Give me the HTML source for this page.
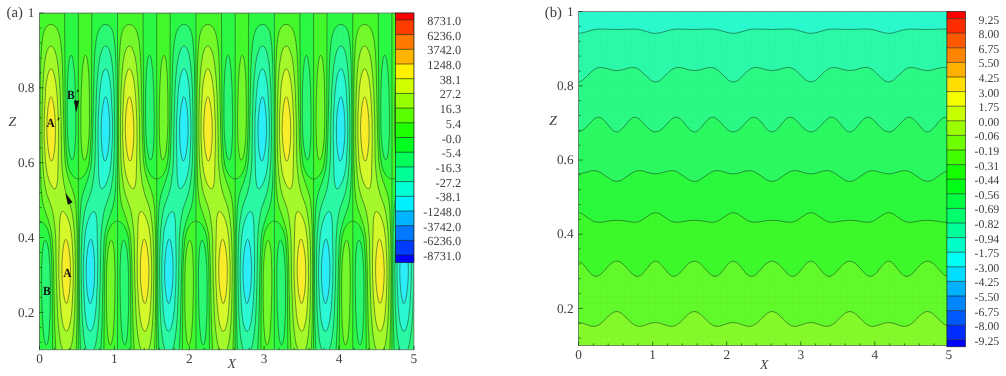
<!DOCTYPE html><html><head><meta charset="utf-8"><style>html,body{margin:0;padding:0;background:#fff;width:1006px;height:376px;overflow:hidden}svg{display:block}</style></head><body><svg width="1006" height="376" viewBox="0 0 1006 376"><defs><filter id="gs" x="0" y="0" width="1006" height="376" filterUnits="userSpaceOnUse" color-interpolation-filters="sRGB"><feColorMatrix type="saturate" values="0"/></filter><clipPath id="ca"><rect x="39.5" y="13.0" width="374.4" height="336.8"/></clipPath><clipPath id="cb"><rect x="578.6" y="11.6" width="370.3" height="333.9"/></clipPath><pattern id="mesh" width="2.4" height="2.35" patternUnits="userSpaceOnUse"><rect width="2.4" height="2.35" fill="none"/><path d="M0,0H2.4M0,0V2.35" stroke="#000" stroke-width="0.6" stroke-opacity="0.05" fill="none"/></pattern><g id="pa" fill-rule="evenodd"><path fill="#2bfcd7" d="M-0.6,349.8L79.2,349.8L79.2,13.0L-0.7,13.0L-0.7,349.8ZM50.8,303.3L50.0,302.1L49.4,300.0L48.0,291.4L47.2,280.5L47.0,269.6L47.5,258.8L48.6,248.7L50.2,241.4L51.0,239.7L51.8,239.2L52.6,239.9L53.2,241.7L54.5,249.4L55.4,260.6L55.6,272.6L55.1,284.2L53.9,294.9L52.4,301.5L51.6,303.2L50.8,303.4ZM65.6,161.0L64.9,160.0L64.3,158.0L63.0,150.1L62.2,139.1L62.0,127.6L62.5,116.6L63.6,106.2L65.1,99.1L65.9,97.2L66.5,96.7L67.3,97.5L68.1,99.7L69.5,107.4L70.4,118.6L70.7,130.3L70.1,141.9L68.9,152.4L67.3,159.2L66.5,160.7L65.7,161.0Z"/><path fill="#2bfca6" d="M-0.6,349.8L79.2,349.8L79.2,13.0L-0.7,13.0L-0.7,349.8ZM50.3,331.1L48.9,328.8L47.5,323.9L46.4,317.2L45.6,309.0L44.3,280.9L44.2,269.3L44.5,257.3L45.7,237.4L46.4,231.4L47.5,225.8L49.1,220.1L50.8,215.8L52.9,212.6L53.9,211.7L54.8,211.4L55.9,212.0L56.8,214.2L57.5,218.4L58.0,223.9L58.7,261.8L58.4,282.7L57.1,306.7L55.6,319.5L54.4,325.4L53.1,329.3L51.8,331.1L51.0,331.4L50.3,331.1ZM62.2,188.7L61.3,187.6L60.6,185.1L59.6,175.6L58.9,138.5L59.2,118.3L60.5,94.7L61.8,82.3L62.8,76.5L63.9,72.5L65.2,69.7L66.5,68.8L67.3,69.1L68.1,70.2L69.6,74.0L70.8,80.3L71.8,88.7L73.3,117.1L73.5,129.1L73.2,141.5L72.0,162.5L71.3,168.5L70.2,174.3L68.6,180.1L66.5,185.0L64.3,188.1L63.3,188.7L62.3,188.8Z"/><path fill="#2bfc75" d="M-0.6,349.8L47.3,349.8L45.7,343.9L44.5,335.9L43.5,324.0L42.7,310.1L42.0,270.0L42.3,250.9L43.0,233.3L44.0,221.7L45.5,211.9L47.2,205.2L51.1,194.3L52.6,189.1L53.9,182.0L55.2,171.5L56.0,159.5L56.5,121.6L57.3,94.3L58.2,78.9L59.5,65.4L60.7,57.4L62.4,51.2L64.4,47.2L65.4,46.3L66.5,46.0L67.8,46.4L69.1,47.8L70.2,50.1L71.2,53.1L72.8,61.7L74.0,74.3L75.0,92.0L75.5,119.8L75.5,139.3L74.9,161.0L73.9,175.2L72.2,187.6L70.5,194.7L66.5,205.9L65.1,210.8L63.8,217.7L62.6,227.3L61.7,240.0L61.1,282.4L59.8,316.5L58.9,328.1L57.8,337.4L56.5,344.6L54.9,349.8L79.2,349.8L79.2,13.0L-0.7,13.0L-0.7,349.8Z"/><path fill="#2bfc44" d="M-0.6,349.8L41.4,349.8L40.5,320.2L40.1,272.6L40.4,232.5L41.4,208.6L42.2,201.4L43.2,195.8L44.6,191.0L48.1,181.1L50.0,174.7L51.5,168.1L52.4,161.4L53.4,140.4L55.0,68.1L55.7,53.1L56.8,41.8L58.3,34.4L60.3,29.0L61.5,27.1L63.0,25.7L64.8,24.7L66.5,24.4L68.4,24.8L70.2,25.8L71.6,27.4L72.9,29.8L73.9,32.5L74.7,36.2L75.9,46.3L76.8,63.2L77.3,89.4L77.5,128.4L77.3,163.6L76.5,187.2L75.3,199.9L73.5,207.8L69.4,219.6L67.3,226.7L66.0,232.9L65.1,239.7L64.2,261.0L62.9,325.4L61.7,349.8L79.2,349.8L79.2,13.0L-0.7,13.0L-0.7,349.8ZM6.7,344.6L5.8,342.6L5.0,339.0L3.7,326.3L2.9,309.0L2.5,282.4L2.7,265.1L3.4,251.3L4.5,243.0L5.3,240.8L6.1,240.2L7.1,241.0L8.1,243.4L9.0,247.6L9.8,253.2L10.8,266.6L11.2,283.9L11.1,310.8L10.1,331.3L9.5,337.9L8.7,342.3L7.7,344.6L7.3,344.9L6.8,344.7ZM32.6,159.9L31.8,158.6L30.8,155.5L29.2,145.6L28.3,132.9L28.0,116.8L28.1,90.9L28.9,71.6L30.2,59.5L31.0,56.5L31.9,55.3L32.4,55.5L32.9,56.2L33.8,59.4L35.2,70.7L36.2,89.4L36.7,115.3L36.6,134.4L35.8,149.4L35.2,154.2L34.5,158.0L33.7,159.7L33.2,160.0L32.7,159.9Z"/><path fill="#44fc2b" d="M-0.6,349.8L-0.0,349.8L0.1,221.1L2.0,221.5L3.9,222.6L5.7,224.4L7.3,226.9L8.7,229.9L9.8,233.3L10.8,237.4L11.3,241.5L12.4,255.3L13.0,272.2L13.5,349.8L39.2,349.8L39.2,179.3L39.1,179.1L36.7,178.5L34.8,177.1L32.9,174.9L31.1,171.7L29.8,168.4L28.7,164.2L27.4,154.0L26.5,138.9L26.1,119.8L25.5,13.0L0.1,13.0L-0.0,13.4L0.0,220.9L-0.7,221.2L-0.7,349.8ZM65.1,349.8L78.4,349.8L78.4,221.1L76.4,221.5L74.5,222.6L72.8,224.4L71.2,226.9L69.7,229.9L68.6,233.3L67.6,237.4L67.1,241.5L66.0,255.3L65.4,272.2L64.9,349.8ZM78.5,221.1L79.2,221.2L79.2,13.0L78.5,13.0L78.4,13.4L78.4,220.9ZM39.3,179.1L41.5,178.6L43.6,177.1L45.5,174.9L47.3,171.7L48.7,167.9L49.7,164.0L51.0,153.5L51.9,137.0L52.4,115.7L52.7,13.0L39.3,13.0L39.2,13.4L39.2,179.0Z"/><path fill="#75fc2b" d="M16.9,349.8L37.0,349.8L37.7,332.9L38.1,306.7L38.3,270.4L38.0,235.9L37.3,212.7L36.0,199.9L34.3,192.5L30.2,180.6L28.1,173.5L26.7,167.0L25.9,160.6L25.0,139.6L23.5,69.2L22.7,54.2L21.7,43.0L20.2,34.7L19.3,31.5L18.1,29.0L16.9,27.1L15.3,25.6L13.5,24.7L11.7,24.4L9.8,24.8L8.1,25.9L6.6,27.6L5.5,29.9L4.5,32.9L3.6,36.6L2.5,46.7L1.6,63.6L1.1,89.8L0.9,128.4L1.2,164.0L1.9,187.2L3.1,199.9L4.9,207.8L9.0,219.6L11.1,226.7L12.4,232.9L13.3,239.7L14.3,261.0L15.5,325.4L16.7,349.8ZM70.7,344.6L71.2,344.9L71.6,344.7L72.6,342.6L73.4,339.0L74.1,333.7L75.2,316.5L75.8,294.4L75.9,271.5L75.3,254.6L74.8,248.3L74.0,243.7L73.2,241.1L72.3,240.2L71.3,241.0L70.5,242.9L68.9,250.7L67.8,262.4L67.3,276.7L67.3,304.8L67.8,323.3L68.9,337.9L69.7,342.3L70.6,344.6ZM44.9,159.9L45.4,160.0L45.9,159.8L46.8,158.2L47.8,154.8L48.6,150.4L49.8,138.5L50.4,123.1L50.3,93.9L49.7,74.1L48.4,60.4L47.5,56.5L46.5,55.3L46.0,55.5L45.5,56.2L44.7,58.7L43.4,67.7L42.4,84.6L41.9,105.9L41.7,127.6L42.2,143.7L43.3,155.0L44.1,158.4L44.9,159.9Z"/><path fill="#a6fc2b" d="M23.4,349.7L31.1,349.8L32.7,343.9L34.0,335.3L35.5,315.3L36.2,288.4L36.3,264.8L35.7,239.3L34.8,225.4L33.0,212.8L31.3,205.5L27.3,194.3L25.8,189.0L24.4,181.6L23.2,171.1L22.4,159.5L22.0,121.6L21.1,94.3L20.2,78.9L19.0,65.4L17.6,57.2L15.9,50.9L14.0,47.2L12.9,46.2L11.7,46.0L10.5,46.5L9.2,48.1L8.1,50.5L7.1,53.7L5.5,62.5L4.4,74.4L3.5,92.0L2.9,119.8L2.9,139.3L3.5,161.0L4.5,175.2L6.2,187.6L7.9,194.7L11.9,205.9L13.3,210.8L14.6,217.7L15.8,227.3L16.7,240.0L17.3,282.0L18.6,316.1L19.5,327.7L20.6,337.0L21.8,344.2L23.3,349.4Z"/><path fill="#d7fc2b" d="M26.6,331.1L27.4,331.4L28.2,331.0L29.0,329.8L29.8,327.9L31.3,322.0L32.4,314.2L33.1,304.8L34.0,286.9L34.2,274.1L34.1,262.5L32.9,238.9L31.3,227.2L29.7,221.0L27.8,216.1L25.5,212.6L24.6,211.7L23.6,211.4L22.5,212.0L21.6,214.2L20.9,217.9L20.5,223.2L19.7,258.4L19.8,277.1L20.7,297.7L22.2,314.9L24.1,325.6L25.4,329.3L26.6,331.1ZM15.1,188.7L15.7,188.8L16.4,188.6L17.4,186.8L18.1,183.3L18.7,177.5L19.5,141.5L19.4,122.0L18.1,96.2L16.8,83.4L15.7,77.3L14.6,72.9L13.3,70.0L12.7,69.2L11.9,68.8L11.1,69.1L10.3,70.2L8.9,73.7L7.7,79.7L6.7,87.6L5.2,114.5L5.1,137.8L6.3,161.0L7.7,172.0L9.2,178.0L10.9,183.0L13.0,186.8L15.0,188.7Z"/><path fill="#fcf02b" d="M27.1,303.4L27.9,303.0L28.7,301.1L30.2,293.5L31.1,282.7L31.5,271.1L31.0,259.1L29.8,248.7L28.2,241.4L27.4,239.7L26.6,239.2L25.8,239.9L25.2,241.7L23.9,249.0L23.1,259.5L22.8,271.1L23.2,281.6L24.2,292.1L25.5,299.9L26.3,302.4L27.0,303.3ZM12.2,161.0L13.0,160.8L13.8,159.2L15.1,152.7L16.1,141.9L16.4,129.1L16.0,117.9L14.9,107.3L13.5,99.6L12.7,97.5L11.9,96.7L11.1,97.5L10.5,99.2L9.0,106.9L8.1,117.5L7.7,128.8L8.2,140.0L9.2,150.3L10.6,157.7L11.4,159.9L12.2,161.0Z"/><path d="M50.8,303.4L50.0,302.1L49.4,300.0L48.0,291.4L47.2,280.5L47.0,269.6L47.5,258.8L48.6,248.7L50.2,241.4L51.0,239.7L51.8,239.2L52.6,239.9L53.2,241.7L54.5,249.4L55.4,260.6L55.6,272.6L55.1,284.2L53.9,294.9L52.4,301.5L51.6,303.2L50.8,303.4M65.7,161.0L64.9,160.0L64.3,158.1L63.0,150.5L62.2,139.6L62.0,128.0L62.5,116.6L63.6,106.2L65.1,99.1L65.9,97.2L66.5,96.7L67.3,97.5L68.1,99.7L69.5,107.4L70.4,118.6L70.7,130.3L70.1,141.9L68.9,152.4L67.3,159.2L66.5,160.7L65.7,161.0M50.3,331.1L48.9,328.8L47.5,323.9L46.4,317.2L45.6,309.0L44.3,280.9L44.2,269.3L44.5,257.3L45.7,237.4L46.4,231.4L47.5,225.8L49.1,220.1L50.8,215.8L52.9,212.6L53.9,211.7L54.8,211.4L55.9,212.0L56.8,214.2L57.5,218.4L58.0,223.9L58.7,261.8L58.4,282.7L57.1,306.7L55.6,319.5L54.4,325.4L53.1,329.3L51.8,331.1L51.0,331.4L50.3,331.1M62.3,188.8L61.4,187.7L60.6,185.1L59.6,175.6L58.9,138.5L59.1,118.6L60.4,95.0L61.7,82.7L62.8,76.7L63.9,72.5L65.2,69.7L66.5,68.8L67.3,69.1L68.1,70.2L69.6,74.0L70.8,80.3L71.8,88.7L73.3,117.1L73.5,129.1L73.2,141.5L72.0,162.5L71.3,168.5L70.2,174.3L68.6,180.1L66.5,185.0L64.3,188.1L63.3,188.7L62.3,188.8M47.3,349.8L45.7,343.9L44.5,335.9L43.5,324.0L42.7,310.1L42.0,270.0L42.3,250.5L43.0,232.9L44.1,221.3L45.6,211.6L47.3,204.9L51.1,194.3L52.6,189.1L53.9,182.0L55.2,171.5L56.0,159.5L56.5,121.6L57.3,93.9L58.2,78.6L59.5,65.1L60.9,56.8L62.5,50.9L64.4,47.2L65.6,46.2L66.7,46.0L68.0,46.5L69.2,48.1L70.4,50.5L71.3,53.7L72.9,62.5L74.0,74.4L75.0,92.0L75.5,119.8L75.5,139.3L74.9,161.0L73.9,175.2L72.2,187.6L70.5,194.7L66.5,205.9L65.1,210.8L63.8,217.7L62.6,227.3L61.7,240.0L61.1,282.4L59.8,316.5L58.9,328.1L57.8,337.4L56.5,344.6L54.9,349.8M41.4,349.8L40.5,320.2L40.1,272.6L40.4,232.5L41.4,208.6L42.2,201.4L43.2,195.8L44.6,191.0L48.1,181.1L50.0,174.7L51.5,168.1L52.4,161.4L53.4,140.4L55.0,68.1L55.7,53.1L56.8,41.8L58.3,34.1L60.4,28.7L61.7,26.9L63.3,25.5L64.9,24.7L66.7,24.4L68.6,24.8L70.4,25.9L71.8,27.6L73.0,29.9L74.0,32.9L74.8,36.6L75.9,46.7L76.8,63.6L77.3,89.8L77.5,128.4L77.3,164.0L76.5,187.2L75.3,199.9L73.5,207.8L69.4,219.6L67.3,226.7L66.0,232.9L65.1,239.7L64.2,261.0L62.9,325.4L61.7,349.8M6.8,344.7L5.8,342.6L5.0,339.0L3.8,326.6L2.9,309.1L2.5,283.5L2.6,265.9L3.3,251.6L4.5,243.0L5.3,240.8L6.1,240.2L7.1,241.0L8.1,243.4L9.0,247.6L9.8,253.2L10.8,266.6L11.2,283.9L11.1,310.8L10.1,331.3L9.5,337.9L8.7,342.3L7.7,344.6L7.3,344.9L6.8,344.7M32.7,159.9L31.9,158.9L31.0,156.2L29.4,146.7L28.4,134.0L28.0,117.5L28.1,90.9L28.9,71.6L30.2,59.5L31.0,56.5L31.9,55.3L32.4,55.5L32.9,56.2L33.8,59.4L35.2,70.7L36.2,89.4L36.7,115.3L36.6,134.4L35.8,149.4L35.2,154.2L34.5,158.0L33.7,159.7L33.2,160.0L32.7,159.9M-0.0,349.8L0.1,221.1L2.0,221.5L3.9,222.6L5.7,224.4L7.3,226.9L8.7,229.9L9.8,233.3L10.8,237.4L11.3,241.5L12.4,255.3L13.0,272.2L13.5,349.8M39.2,349.8L39.2,179.3L39.1,179.1L36.7,178.5L34.8,177.1L32.9,174.9L31.1,171.7L29.8,168.4L28.7,164.2L27.4,154.0L26.5,138.9L26.1,119.8L25.5,13.0L0.1,13.0L-0.0,13.4L0.0,220.9L-0.7,221.2M78.4,349.8L78.4,221.1L76.4,221.5L74.5,222.6L72.8,224.4L71.2,226.9L69.7,229.9L68.6,233.3L67.6,237.4L67.1,241.5L66.0,255.3L65.4,272.2L64.9,349.8M79.2,13.0L78.5,13.0L78.4,13.4L78.4,220.9L79.2,221.2M39.3,179.1L41.5,178.6L43.6,177.1L45.5,174.9L47.3,171.7L48.7,167.9L49.7,164.0L51.0,153.5L51.9,137.0L52.4,115.7L52.7,13.0L39.3,13.0L39.2,13.4L39.3,179.1M37.0,349.8L37.9,320.2L38.3,272.6L38.0,232.5L37.0,208.6L36.2,201.4L35.2,195.8L33.8,191.0L30.3,181.1L28.4,174.7L26.9,168.1L26.0,161.4L25.0,140.4L23.4,68.1L22.7,53.1L21.6,41.8L20.1,34.1L18.0,28.7L16.7,26.9L15.1,25.5L13.5,24.7L11.7,24.4L9.8,24.8L8.1,25.9L6.6,27.6L5.5,29.9L4.5,32.9L3.6,36.6L2.5,46.7L1.6,63.6L1.1,89.8L0.9,128.4L1.2,164.0L1.9,187.2L3.1,199.9L4.9,207.8L9.0,219.6L11.1,226.7L12.4,232.9L13.3,239.7L14.3,261.0L15.5,325.4L16.7,349.8M70.7,344.6L71.2,344.9L71.6,344.7L72.6,342.6L73.4,339.0L74.1,333.7L75.2,316.5L75.8,294.4L75.9,271.5L75.3,254.6L74.8,248.3L74.0,243.7L73.2,241.1L72.3,240.2L71.3,241.0L70.5,242.9L68.9,250.7L67.8,262.4L67.3,277.1L67.3,305.2L67.8,323.9L68.9,337.9L69.7,342.3L70.7,344.6M44.9,159.9L45.4,160.0L45.9,159.8L46.8,158.2L47.8,154.8L48.6,150.4L49.8,138.5L50.4,123.1L50.3,93.9L49.7,74.1L48.4,60.4L47.5,56.5L46.5,55.3L46.0,55.5L45.5,56.2L44.7,58.7L43.4,67.7L42.4,84.6L41.8,106.1L41.7,128.0L42.2,144.1L43.3,155.0L44.1,158.5L44.9,159.9M31.1,349.8L32.7,343.9L33.9,335.9L35.0,324.0L35.7,310.1L36.4,270.0L36.1,250.5L35.4,232.9L34.3,221.3L32.8,211.6L31.1,204.9L27.3,194.3L25.9,189.1L24.5,182.0L23.2,171.5L22.4,159.5L22.0,121.6L21.1,93.9L20.2,78.6L18.9,65.1L17.6,56.8L15.9,50.9L14.0,47.2L12.9,46.2L11.7,46.0L10.5,46.5L9.2,48.1L8.1,50.5L7.1,53.7L5.5,62.5L4.4,74.4L3.5,92.0L2.9,119.8L2.9,139.3L3.5,161.0L4.5,175.2L6.2,187.6L7.9,194.7L11.9,205.9L13.3,210.8L14.6,217.7L15.8,227.3L16.7,240.0L17.3,282.4L18.6,316.5L19.5,328.1L20.6,337.4L21.9,344.6L23.5,349.8M26.6,331.1L27.4,331.4L28.2,331.0L29.0,329.8L29.8,327.9L31.3,322.0L32.4,314.2L33.1,304.8L34.0,286.9L34.2,274.1L34.1,262.5L32.9,238.9L31.3,227.2L29.7,221.0L27.8,216.1L25.5,212.6L24.6,211.7L23.6,211.4L22.5,212.0L21.6,214.2L20.9,217.9L20.5,223.2L19.7,258.8L19.8,277.5L20.8,298.8L22.2,315.0L23.1,321.2L24.2,326.1L25.4,329.3L26.6,331.1M15.1,188.7L15.7,188.8L16.4,188.6L17.4,186.8L18.1,183.3L18.7,177.5L19.5,141.5L19.4,122.0L18.1,96.2L16.8,83.4L15.7,77.3L14.6,72.9L13.3,70.0L12.7,69.2L11.9,68.8L11.1,69.1L10.3,70.2L8.9,74.0L7.6,80.3L6.6,87.9L5.2,114.9L5.1,138.1L6.3,161.0L7.8,172.2L9.2,178.0L10.9,183.0L13.0,186.8L14.1,188.1L15.1,188.7M27.1,303.4L27.9,303.0L28.7,301.1L30.2,293.5L31.1,282.7L31.5,271.1L31.0,259.1L29.8,248.7L28.2,241.4L27.4,239.7L26.6,239.2L25.8,239.9L25.2,241.7L23.9,249.0L23.0,259.9L22.8,271.5L23.2,282.4L24.2,292.7L25.7,300.5L26.5,302.7L27.1,303.4M12.2,161.0L13.0,160.8L13.8,159.2L15.1,152.7L16.1,141.9L16.4,129.1L16.0,117.9L14.9,107.3L13.5,99.6L12.7,97.5L11.9,96.7L11.1,97.5L10.5,99.2L9.0,106.9L8.1,117.5L7.7,128.8L8.2,140.0L9.2,150.3L10.6,157.7L11.4,159.9L12.2,161.0" fill="none" stroke="#1a3a1a" stroke-width="0.85" stroke-opacity="0.62"/></g></defs><g clip-path="url(#ca)"><rect x="39.5" y="13.0" width="374.4" height="336.8" fill="#2bf0fc"/><use href="#pa" x="-39.31" y="0"/><use href="#pa" x="39.10" y="0"/><use href="#pa" x="117.51" y="0"/><use href="#pa" x="195.93" y="0"/><use href="#pa" x="274.34" y="0"/><use href="#pa" x="352.76" y="0"/><rect x="39.5" y="13.0" width="374.4" height="336.8" fill="url(#mesh)"/></g><g clip-path="url(#cb)"><rect x="578.6" y="11.6" width="370.3" height="333.9" fill="#2bfccf"/><path fill="#2bfcaa" d="M577.6,347.5L577.6,33.4L582.4,32.9L593.6,29.7L600.0,29.0L615.9,29.5L635.7,29.1L641.0,29.9L651.1,32.9L655.4,33.4L660.2,32.8L671.3,29.7L677.7,29.0L693.7,29.5L709.2,29.0L713.4,29.1L718.7,30.0L728.9,32.9L733.1,33.4L737.9,32.8L749.1,29.6L755.5,29.0L771.5,29.5L786.9,29.0L791.2,29.1L796.5,30.0L806.6,32.9L810.9,33.4L815.7,32.8L826.9,29.6L832.7,29.0L849.2,29.5L864.7,29.0L868.9,29.1L874.3,30.0L884.4,32.9L888.6,33.4L892.9,32.9L903.0,30.0L908.9,29.1L928.1,29.5L944.0,29.0L949.9,29.5L949.9,347.5Z"/><path fill="#2bfc86" d="M577.6,347.5L577.6,82.0L580.3,81.5L582.9,80.0L591.4,71.7L594.6,69.2L597.3,67.9L600.5,67.4L604.2,67.9L612.8,70.2L616.5,70.6L621.3,70.1L630.3,67.6L633.0,67.4L635.1,67.7L637.8,68.7L640.4,70.5L650.6,80.1L653.2,81.6L655.4,82.0L658.0,81.5L660.7,79.9L668.7,72.2L671.9,69.5L674.5,68.1L677.7,67.4L680.9,67.6L690.0,70.1L694.2,70.6L699.0,70.1L708.1,67.6L710.8,67.4L712.9,67.7L715.5,68.7L718.2,70.5L728.3,80.1L731.0,81.6L733.1,82.0L735.8,81.5L738.5,79.9L746.4,72.1L749.6,69.5L752.3,68.1L755.5,67.4L758.7,67.7L767.2,70.0L772.0,70.6L776.8,70.0L785.9,67.6L788.5,67.4L790.6,67.7L793.3,68.8L796.0,70.6L803.4,77.9L806.1,80.2L808.8,81.6L810.9,82.0L813.5,81.4L816.2,79.8L824.2,72.1L827.4,69.5L830.1,68.1L832.7,67.5L836.5,67.7L845.0,70.0L849.8,70.6L854.6,70.0L863.6,67.6L866.3,67.4L868.4,67.7L871.1,68.8L873.7,70.6L881.2,77.9L883.9,80.2L886.5,81.6L888.6,82.0L890.8,81.6L893.4,80.2L904.1,70.2L906.8,68.5L909.4,67.6L911.6,67.4L913.7,67.6L922.7,70.0L926.5,70.6L931.3,70.2L939.8,67.9L943.0,67.4L946.7,67.9L949.9,69.5L949.9,347.5Z"/><path fill="#2bfc62" d="M577.6,347.5L577.6,132.0L580.3,131.5L582.9,130.1L585.6,127.8L593.6,119.4L596.2,117.7L598.4,117.2L600.5,117.6L602.6,118.9L605.3,121.6L612.2,129.9L614.4,131.4L616.5,132.0L618.6,131.6L620.7,130.2L622.9,128.0L629.8,119.7L632.5,117.8L634.6,117.2L636.7,117.5L639.4,119.1L642.0,121.6L647.9,127.9L650.6,130.2L653.2,131.6L655.4,132.0L658.0,131.5L660.7,130.0L663.4,127.7L671.3,119.3L674.0,117.7L676.1,117.2L678.3,117.6L680.4,119.0L682.5,121.1L690.0,129.9L692.1,131.4L694.2,132.0L695.8,131.8L698.0,130.6L700.6,127.9L707.6,119.7L710.2,117.8L712.4,117.2L714.5,117.6L717.1,119.1L719.8,121.6L725.7,128.0L728.3,130.2L731.0,131.6L733.1,132.0L735.8,131.5L738.5,130.0L741.1,127.7L748.6,119.8L751.2,117.9L753.4,117.2L755.5,117.5L758.2,119.0L760.3,121.1L765.6,127.7L767.7,129.9L769.9,131.4L772.0,132.0L773.6,131.7L775.7,130.5L778.4,127.9L785.3,119.6L788.0,117.7L790.1,117.2L792.2,117.6L794.9,119.2L797.6,121.7L802.9,127.5L806.1,130.3L808.8,131.6L810.9,132.0L813.5,131.5L816.2,130.0L818.9,127.6L826.3,119.7L829.0,117.9L831.1,117.2L833.3,117.5L835.9,119.1L838.1,121.2L845.0,129.5L847.6,131.5L849.8,132.0L851.4,131.7L853.5,130.5L855.6,128.4L863.1,119.6L865.2,118.0L867.3,117.2L869.5,117.4L871.6,118.4L874.3,120.7L880.1,127.0L882.8,129.5L886.0,131.5L888.6,132.0L891.3,131.5L894.0,129.9L896.6,127.5L904.1,119.7L906.2,118.1L908.4,117.3L910.5,117.3L913.1,118.7L915.8,121.2L922.7,129.5L925.4,131.5L927.5,132.0L929.7,131.5L931.8,130.0L933.9,127.7L939.8,120.6L943.0,117.9L944.6,117.3L946.2,117.2L947.8,117.6L949.9,118.9L949.9,347.5Z"/><path fill="#2bfc3d" d="M577.6,347.5L577.6,173.9L581.9,173.4L591.4,170.8L594.1,170.6L596.2,170.9L598.4,171.5L601.0,172.8L611.7,180.1L614.4,181.1L617.0,181.4L619.1,181.1L621.8,180.0L631.9,173.0L634.6,171.6L637.3,170.8L639.4,170.6L642.0,170.8L651.1,173.4L655.4,173.9L659.6,173.4L668.7,170.9L672.4,170.6L675.1,171.1L678.3,172.5L689.4,180.1L692.1,181.1L694.8,181.4L696.9,181.0L699.6,180.0L709.7,173.0L712.4,171.6L715.0,170.8L717.1,170.6L719.8,170.8L728.9,173.4L733.1,173.9L737.4,173.4L745.9,171.0L749.6,170.6L752.3,171.0L755.0,172.0L758.2,173.9L766.7,179.9L769.3,181.0L772.0,181.4L774.7,181.0L777.3,179.9L787.5,172.9L790.1,171.6L792.8,170.8L794.9,170.6L797.6,170.8L806.6,173.4L810.9,173.9L815.1,173.4L823.7,171.0L827.4,170.6L830.1,171.0L832.7,172.0L835.9,173.9L844.4,179.9L847.1,181.0L849.8,181.4L851.9,181.2L854.6,180.2L857.2,178.6L865.2,172.9L867.9,171.6L870.5,170.8L872.7,170.6L875.3,170.9L884.4,173.4L888.6,173.9L892.4,173.5L900.9,171.1L904.6,170.6L907.3,170.9L910.5,172.0L913.1,173.6L922.2,179.9L924.9,181.0L927.5,181.4L930.2,181.0L932.9,179.9L941.4,173.9L944.6,172.0L947.2,171.0L949.9,170.6L949.9,347.5Z"/><path fill="#3dfc2b" d="M577.6,347.5L577.6,212.7L579.7,212.9L582.4,214.0L590.4,219.5L593.0,221.0L595.7,221.9L598.9,222.3L602.1,222.1L611.2,220.6L616.5,220.3L622.3,220.6L632.5,222.2L636.7,222.1L638.9,221.5L641.5,220.3L651.1,213.9L653.2,213.0L655.4,212.7L657.5,213.0L660.2,214.0L668.1,219.5L670.8,221.0L673.5,221.9L676.1,222.3L679.9,222.1L688.9,220.6L694.2,220.3L700.1,220.6L710.2,222.2L714.5,222.1L716.6,221.5L719.3,220.3L728.9,213.9L731.0,213.0L733.1,212.7L735.3,213.0L737.9,214.0L745.4,219.2L748.6,221.0L751.2,221.9L753.9,222.3L757.6,222.1L766.7,220.6L772.0,220.3L777.9,220.6L788.0,222.2L792.2,222.1L794.4,221.5L797.0,220.3L806.6,213.8L808.8,213.0L810.9,212.7L813.0,213.0L815.7,214.1L825.8,220.8L828.5,221.8L831.1,222.3L834.9,222.1L844.4,220.6L849.8,220.3L855.6,220.6L865.7,222.2L870.0,222.1L872.1,221.5L874.8,220.2L884.4,213.8L886.5,213.0L888.6,212.7L890.8,213.0L892.9,213.8L902.5,220.3L905.2,221.5L907.8,222.2L912.1,222.2L921.1,220.7L926.5,220.3L932.9,220.6L944.0,222.3L947.2,222.1L949.9,221.5L949.9,347.5Z"/><path fill="#62fc2b" d="M577.6,347.5L577.6,261.1L579.7,261.5L581.9,263.0L584.0,265.2L590.9,273.8L593.6,275.8L595.7,276.4L597.8,276.0L600.5,274.4L603.2,271.9L609.0,265.3L611.7,263.0L614.4,261.5L616.5,261.1L619.1,261.6L621.8,263.1L624.5,265.5L632.5,274.1L635.1,275.9L637.3,276.4L639.4,276.0L641.5,274.6L644.2,271.8L651.1,263.3L653.2,261.7L655.4,261.1L657.0,261.3L659.1,262.6L661.8,265.3L668.7,273.8L671.3,275.8L673.5,276.4L675.6,276.0L678.3,274.4L680.9,271.8L686.8,265.3L689.4,262.9L692.1,261.5L694.2,261.1L696.9,261.6L699.6,263.1L702.2,265.6L710.2,274.2L712.9,275.9L715.0,276.4L717.1,275.9L719.3,274.6L721.4,272.4L726.7,265.6L728.9,263.3L731.0,261.7L733.1,261.1L734.7,261.4L736.9,262.6L739.5,265.3L746.4,273.9L749.1,275.8L751.2,276.4L753.4,276.0L756.0,274.4L758.7,271.8L764.0,265.7L767.2,262.9L769.9,261.5L772.0,261.1L774.7,261.6L777.3,263.2L780.0,265.6L787.5,273.8L790.1,275.7L792.2,276.4L794.4,276.1L797.0,274.5L799.2,272.3L804.5,265.5L806.6,263.2L808.8,261.7L810.9,261.1L813.0,261.6L815.1,263.1L824.2,273.9L826.3,275.6L828.5,276.4L830.6,276.2L832.7,275.1L835.4,272.8L841.2,266.3L843.9,263.7L847.1,261.7L849.8,261.1L852.4,261.6L855.1,263.2L857.8,265.7L865.2,273.8L867.3,275.4L869.5,276.3L871.6,276.3L874.3,274.9L876.9,272.3L882.3,265.5L884.4,263.2L886.5,261.6L888.6,261.1L890.8,261.6L892.9,263.2L901.4,273.5L903.6,275.3L905.7,276.3L907.8,276.3L910.5,275.1L913.1,272.8L919.0,266.2L921.7,263.6L924.9,261.6L927.5,261.1L930.2,261.7L933.4,263.7L936.1,266.3L941.9,272.8L944.6,275.1L947.2,276.3L949.9,276.1L949.9,347.5Z"/><path fill="#86fc2b" d="M577.6,347.5L577.6,322.5L581.9,323.0L591.4,326.2L594.1,326.4L596.2,326.0L598.9,324.9L601.6,323.0L609.0,315.6L611.7,313.4L614.4,311.9L617.0,311.5L619.1,312.0L621.8,313.5L631.9,323.2L634.6,325.0L637.3,326.1L639.4,326.4L642.0,326.1L651.1,323.1L655.4,322.5L659.6,323.1L668.7,326.1L672.4,326.3L675.1,325.7L677.7,324.2L680.4,322.0L688.9,313.7L691.6,312.1L694.2,311.5L696.4,311.8L699.0,313.2L701.7,315.3L709.7,323.2L712.4,325.0L715.0,326.1L717.1,326.4L719.8,326.1L728.9,323.1L733.1,322.5L737.4,323.1L746.4,326.1L749.6,326.4L752.3,325.8L755.0,324.5L758.2,322.0L766.7,313.7L769.3,312.1L772.0,311.5L774.1,311.8L776.8,313.2L779.5,315.4L787.5,323.2L790.1,325.1L792.8,326.1L794.9,326.4L797.6,326.1L806.6,323.1L810.9,322.5L815.1,323.1L823.7,326.0L827.4,326.4L830.1,325.8L832.7,324.5L835.9,321.9L844.4,313.6L847.1,312.1L849.8,311.5L851.9,311.9L854.6,313.2L857.2,315.4L865.2,323.3L867.9,325.1L870.0,326.0L872.1,326.4L874.8,326.2L884.4,323.1L888.6,322.5L892.4,323.0L900.9,325.9L904.6,326.4L907.8,325.8L910.5,324.4L913.7,321.9L919.5,315.9L922.2,313.6L924.9,312.0L927.5,311.5L930.2,312.1L932.9,313.7L941.4,321.9L944.6,324.5L947.2,325.8L949.9,326.4L949.9,347.5Z"/><path d="M577.6,33.4L582.4,32.9L593.6,29.7L600.0,29.0L615.9,29.5L635.7,29.1L641.0,29.9L651.1,32.9L655.4,33.4L660.2,32.8L671.3,29.7L677.7,29.0L693.7,29.5L709.2,29.0L713.4,29.1L718.7,30.0L728.9,32.9L733.1,33.4L737.9,32.8L749.1,29.6L755.5,29.0L771.5,29.5L786.9,29.0L791.2,29.1L796.5,30.0L806.6,32.9L810.9,33.4L815.7,32.8L826.9,29.6L832.7,29.0L849.2,29.5L864.7,29.0L868.9,29.1L874.3,30.0L884.4,32.9L888.6,33.4L892.9,32.9L903.0,30.0L908.9,29.1L928.1,29.5L944.0,29.0L949.9,29.5M577.6,82.0L580.3,81.5L582.9,80.0L591.4,71.7L594.6,69.2L597.3,67.9L600.5,67.4L604.2,67.9L612.8,70.2L616.5,70.6L621.3,70.1L630.3,67.6L633.0,67.4L635.1,67.7L637.8,68.7L640.4,70.5L650.6,80.1L653.2,81.6L655.4,82.0L658.0,81.5L660.7,79.9L668.7,72.2L671.9,69.5L674.5,68.1L677.7,67.4L680.9,67.6L690.0,70.1L694.2,70.6L699.0,70.1L708.1,67.6L710.8,67.4L712.9,67.7L715.5,68.7L718.2,70.5L728.3,80.1L731.0,81.6L733.1,82.0L735.8,81.5L738.5,79.9L746.4,72.1L749.6,69.5L752.3,68.1L755.5,67.4L758.7,67.7L767.2,70.0L772.0,70.6L776.8,70.0L785.9,67.6L788.5,67.4L790.6,67.7L793.3,68.8L796.0,70.6L803.4,77.9L806.1,80.2L808.8,81.6L810.9,82.0L813.5,81.4L816.2,79.8L824.2,72.1L827.4,69.5L830.1,68.1L832.7,67.5L836.5,67.7L845.0,70.0L849.8,70.6L854.6,70.0L863.6,67.6L866.3,67.4L868.4,67.7L871.1,68.8L873.7,70.6L881.2,77.9L883.9,80.2L886.5,81.6L888.6,82.0L890.8,81.6L893.4,80.2L904.1,70.2L906.8,68.5L909.4,67.6L911.6,67.4L913.7,67.6L922.7,70.0L926.5,70.6L931.3,70.2L939.8,67.9L943.0,67.4L946.7,67.9L949.9,69.5M577.6,132.0L580.3,131.5L582.9,130.1L585.6,127.8L593.6,119.4L596.2,117.7L598.4,117.2L600.5,117.6L602.6,118.9L605.3,121.6L612.2,129.9L614.4,131.4L616.5,132.0L618.6,131.6L620.7,130.2L622.9,128.0L629.8,119.7L632.5,117.8L634.6,117.2L636.7,117.5L639.4,119.1L642.0,121.6L647.9,127.9L650.6,130.2L653.2,131.6L655.4,132.0L658.0,131.5L660.7,130.0L663.4,127.7L671.3,119.3L674.0,117.7L676.1,117.2L678.3,117.6L680.4,119.0L682.5,121.1L690.0,129.9L692.1,131.4L694.2,132.0L695.8,131.8L698.0,130.6L700.6,127.9L707.6,119.7L710.2,117.8L712.4,117.2L714.5,117.6L717.1,119.1L719.8,121.6L725.7,128.0L728.3,130.2L731.0,131.6L733.1,132.0L735.8,131.5L738.5,130.0L741.1,127.7L748.6,119.8L751.2,117.9L753.4,117.2L755.5,117.5L758.2,119.0L760.3,121.1L765.6,127.7L767.7,129.9L769.9,131.4L772.0,132.0L773.6,131.7L775.7,130.5L778.4,127.9L785.3,119.6L788.0,117.7L790.1,117.2L792.2,117.6L794.9,119.2L797.6,121.7L802.9,127.5L806.1,130.3L808.8,131.6L810.9,132.0L813.5,131.5L816.2,130.0L818.9,127.6L826.3,119.7L829.0,117.9L831.1,117.2L833.3,117.5L835.9,119.1L838.1,121.2L845.0,129.5L847.6,131.5L849.8,132.0L851.4,131.7L853.5,130.5L855.6,128.4L863.1,119.6L865.2,118.0L867.3,117.2L869.5,117.4L871.6,118.4L874.3,120.7L880.1,127.0L882.8,129.5L886.0,131.5L888.6,132.0L891.3,131.5L894.0,129.9L896.6,127.5L904.1,119.7L906.2,118.1L908.4,117.3L910.5,117.3L913.1,118.7L915.8,121.2L922.7,129.5L925.4,131.5L927.5,132.0L929.7,131.5L931.8,130.0L933.9,127.7L939.8,120.6L943.0,117.9L944.6,117.3L946.2,117.2L947.8,117.6L949.9,118.9M577.6,173.9L581.9,173.4L591.4,170.8L594.1,170.6L596.2,170.9L598.4,171.5L601.0,172.8L611.7,180.1L614.4,181.1L617.0,181.4L619.1,181.1L621.8,180.0L631.9,173.0L634.6,171.6L637.3,170.8L639.4,170.6L642.0,170.8L651.1,173.4L655.4,173.9L659.6,173.4L668.7,170.9L672.4,170.6L675.1,171.1L678.3,172.5L689.4,180.1L692.1,181.1L694.8,181.4L696.9,181.0L699.6,180.0L709.7,173.0L712.4,171.6L715.0,170.8L717.1,170.6L719.8,170.8L728.9,173.4L733.1,173.9L737.4,173.4L745.9,171.0L749.6,170.6L752.3,171.0L755.0,172.0L758.2,173.9L766.7,179.9L769.3,181.0L772.0,181.4L774.7,181.0L777.3,179.9L787.5,172.9L790.1,171.6L792.8,170.8L794.9,170.6L797.6,170.8L806.6,173.4L810.9,173.9L815.1,173.4L823.7,171.0L827.4,170.6L830.1,171.0L832.7,172.0L835.9,173.9L844.4,179.9L847.1,181.0L849.8,181.4L851.9,181.2L854.6,180.2L857.2,178.6L865.2,172.9L867.9,171.6L870.5,170.8L872.7,170.6L875.3,170.9L884.4,173.4L888.6,173.9L892.4,173.5L900.9,171.1L904.6,170.6L907.3,170.9L910.5,172.0L913.1,173.6L922.2,179.9L924.9,181.0L927.5,181.4L930.2,181.0L932.9,179.9L941.4,173.9L944.6,172.0L947.2,171.0L949.9,170.6M577.6,212.7L579.7,212.9L582.4,214.0L590.4,219.5L593.0,221.0L595.7,221.9L598.9,222.3L602.1,222.1L611.2,220.6L616.5,220.3L622.3,220.6L632.5,222.2L636.7,222.1L638.9,221.5L641.5,220.3L651.1,213.9L653.2,213.0L655.4,212.7L657.5,213.0L660.2,214.0L668.1,219.5L670.8,221.0L673.5,221.9L676.1,222.3L679.9,222.1L688.9,220.6L694.2,220.3L700.1,220.6L710.2,222.2L714.5,222.1L716.6,221.5L719.3,220.3L728.9,213.9L731.0,213.0L733.1,212.7L735.3,213.0L737.9,214.0L745.4,219.2L748.6,221.0L751.2,221.9L753.9,222.3L757.6,222.1L766.7,220.6L772.0,220.3L777.9,220.6L788.0,222.2L792.2,222.1L794.4,221.5L797.0,220.3L806.6,213.8L808.8,213.0L810.9,212.7L813.0,213.0L815.7,214.1L825.8,220.8L828.5,221.8L831.1,222.3L834.9,222.1L844.4,220.6L849.8,220.3L855.6,220.6L865.7,222.2L870.0,222.1L872.1,221.5L874.8,220.2L884.4,213.8L886.5,213.0L888.6,212.7L890.8,213.0L892.9,213.8L902.5,220.3L905.2,221.5L907.8,222.2L912.1,222.2L921.1,220.7L926.5,220.3L932.9,220.6L944.0,222.3L947.2,222.1L949.9,221.5M577.6,261.1L579.7,261.5L581.9,263.0L584.0,265.2L590.9,273.8L593.6,275.8L595.7,276.4L597.8,276.0L600.5,274.4L603.2,271.9L609.0,265.3L611.7,263.0L614.4,261.5L616.5,261.1L619.1,261.6L621.8,263.1L624.5,265.5L632.5,274.1L635.1,275.9L637.3,276.4L639.4,276.0L641.5,274.6L644.2,271.8L651.1,263.3L653.2,261.7L655.4,261.1L657.0,261.3L659.1,262.6L661.8,265.3L668.7,273.8L671.3,275.8L673.5,276.4L675.6,276.0L678.3,274.4L680.9,271.8L686.8,265.3L689.4,262.9L692.1,261.5L694.2,261.1L696.9,261.6L699.6,263.1L702.2,265.6L710.2,274.2L712.9,275.9L715.0,276.4L717.1,275.9L719.3,274.6L721.4,272.4L726.7,265.6L728.9,263.3L731.0,261.7L733.1,261.1L734.7,261.4L736.9,262.6L739.5,265.3L746.4,273.9L749.1,275.8L751.2,276.4L753.4,276.0L756.0,274.4L758.7,271.8L764.0,265.7L767.2,262.9L769.9,261.5L772.0,261.1L774.7,261.6L777.3,263.2L780.0,265.6L787.5,273.8L790.1,275.7L792.2,276.4L794.4,276.1L797.0,274.5L799.2,272.3L804.5,265.5L806.6,263.2L808.8,261.7L810.9,261.1L813.0,261.6L815.1,263.1L824.2,273.9L826.3,275.6L828.5,276.4L830.6,276.2L832.7,275.1L835.4,272.8L841.2,266.3L843.9,263.7L847.1,261.7L849.8,261.1L852.4,261.6L855.1,263.2L857.8,265.7L865.2,273.8L867.3,275.4L869.5,276.3L871.6,276.3L874.3,274.9L876.9,272.3L882.3,265.5L884.4,263.2L886.5,261.6L888.6,261.1L890.8,261.6L892.9,263.2L901.4,273.5L903.6,275.3L905.7,276.3L907.8,276.3L910.5,275.1L913.1,272.8L919.0,266.2L921.7,263.6L924.9,261.6L927.5,261.1L930.2,261.7L933.4,263.7L936.1,266.3L941.9,272.8L944.6,275.1L947.2,276.3L949.9,276.1M577.6,322.5L581.9,323.0L591.4,326.2L594.1,326.4L596.2,326.0L598.9,324.9L601.6,323.0L609.0,315.6L611.7,313.4L614.4,311.9L617.0,311.5L619.1,312.0L621.8,313.5L631.9,323.2L634.6,325.0L637.3,326.1L639.4,326.4L642.0,326.1L651.1,323.1L655.4,322.5L659.6,323.1L668.7,326.1L672.4,326.3L675.1,325.7L677.7,324.2L680.4,322.0L688.9,313.7L691.6,312.1L694.2,311.5L696.4,311.8L699.0,313.2L701.7,315.3L709.7,323.2L712.4,325.0L715.0,326.1L717.1,326.4L719.8,326.1L728.9,323.1L733.1,322.5L737.4,323.1L746.4,326.1L749.6,326.4L752.3,325.8L755.0,324.5L758.2,322.0L766.7,313.7L769.3,312.1L772.0,311.5L774.1,311.8L776.8,313.2L779.5,315.4L787.5,323.2L790.1,325.1L792.8,326.1L794.9,326.4L797.6,326.1L806.6,323.1L810.9,322.5L815.1,323.1L823.7,326.0L827.4,326.4L830.1,325.8L832.7,324.5L835.9,321.9L844.4,313.6L847.1,312.1L849.8,311.5L851.9,311.9L854.6,313.2L857.2,315.4L865.2,323.3L867.9,325.1L870.0,326.0L872.1,326.4L874.8,326.2L884.4,323.1L888.6,322.5L892.4,323.0L900.9,325.9L904.6,326.4L907.8,325.8L910.5,324.4L913.7,321.9L919.5,315.9L922.2,313.6L924.9,312.0L927.5,311.5L930.2,312.1L932.9,313.7L941.4,321.9L944.6,324.5L947.2,325.8L949.9,326.4" fill="none" stroke="#1a3a1a" stroke-width="0.85" stroke-opacity="0.62"/><rect x="578.6" y="11.6" width="370.3" height="333.9" fill="url(#mesh)"/></g><rect x="39.5" y="13.0" width="374.4" height="336.8" fill="none" stroke="#6a6a6a" stroke-width="0.75"/><path d="M39.5,349.8V345.8M54.5,349.8V347.8M69.5,349.8V347.8M84.4,349.8V347.8M99.4,349.8V347.8M114.4,349.8V345.8M129.4,349.8V347.8M144.3,349.8V347.8M159.3,349.8V347.8M174.3,349.8V347.8M189.3,349.8V345.8M204.2,349.8V347.8M219.2,349.8V347.8M234.2,349.8V347.8M249.2,349.8V347.8M264.1,349.8V345.8M279.1,349.8V347.8M294.1,349.8V347.8M309.1,349.8V347.8M324.0,349.8V347.8M339.0,349.8V345.8M354.0,349.8V347.8M369.0,349.8V347.8M383.9,349.8V347.8M398.9,349.8V347.8M413.9,349.8V345.8M39.5,13.0H43.5M39.5,28.0H41.5M39.5,42.9H41.5M39.5,57.9H41.5M39.5,72.9H41.5M39.5,87.8H43.5M39.5,102.8H41.5M39.5,117.8H41.5M39.5,132.8H41.5M39.5,147.7H41.5M39.5,162.7H43.5M39.5,177.7H41.5M39.5,192.6H41.5M39.5,207.6H41.5M39.5,222.6H41.5M39.5,237.5H43.5M39.5,252.5H41.5M39.5,267.5H41.5M39.5,282.4H41.5M39.5,297.4H41.5M39.5,312.4H43.5M39.5,327.3H41.5M39.5,342.3H41.5" stroke="#0a2a0a" stroke-width="0.9" stroke-opacity="0.7" fill="none"/><rect x="578.6" y="11.6" width="370.3" height="333.9" fill="none" stroke="#6a6a6a" stroke-width="0.75"/><path d="M578.6,345.5V341.5M593.4,345.5V343.5M608.2,345.5V343.5M623.0,345.5V343.5M637.8,345.5V343.5M652.7,345.5V341.5M667.5,345.5V343.5M682.3,345.5V343.5M697.1,345.5V343.5M711.9,345.5V343.5M726.7,345.5V341.5M741.5,345.5V343.5M756.3,345.5V343.5M771.2,345.5V343.5M786.0,345.5V343.5M800.8,345.5V341.5M815.6,345.5V343.5M830.4,345.5V343.5M845.2,345.5V343.5M860.0,345.5V343.5M874.8,345.5V341.5M889.7,345.5V343.5M904.5,345.5V343.5M919.3,345.5V343.5M934.1,345.5V343.5M948.9,345.5V341.5M578.6,11.6H582.6M578.6,26.4H580.6M578.6,41.3H580.6M578.6,56.1H580.6M578.6,71.0H580.6M578.6,85.8H582.6M578.6,100.6H580.6M578.6,115.5H580.6M578.6,130.3H580.6M578.6,145.2H580.6M578.6,160.0H582.6M578.6,174.8H580.6M578.6,189.7H580.6M578.6,204.5H580.6M578.6,219.4H580.6M578.6,234.2H582.6M578.6,249.0H580.6M578.6,263.9H580.6M578.6,278.7H580.6M578.6,293.6H580.6M578.6,308.4H582.6M578.6,323.2H580.6M578.6,338.1H580.6" stroke="#0a2a0a" stroke-width="0.9" stroke-opacity="0.7" fill="none"/><rect x="395.4" y="13.00" width="18.5" height="6.91" fill="#ff0000"/><rect x="395.4" y="19.90" width="18.5" height="14.71" fill="#ff3c00"/><rect x="395.4" y="34.60" width="18.5" height="14.71" fill="#ff7800"/><rect x="395.4" y="49.30" width="18.5" height="14.71" fill="#ffb400"/><rect x="395.4" y="64.00" width="18.5" height="14.71" fill="#fff000"/><rect x="395.4" y="78.70" width="18.5" height="14.71" fill="#d2ff00"/><rect x="395.4" y="93.40" width="18.5" height="14.71" fill="#96ff00"/><rect x="395.4" y="108.10" width="18.5" height="14.71" fill="#5aff00"/><rect x="395.4" y="122.80" width="18.5" height="14.71" fill="#1eff00"/><rect x="395.4" y="137.50" width="18.5" height="14.71" fill="#00ff1e"/><rect x="395.4" y="152.20" width="18.5" height="14.71" fill="#00ff5a"/><rect x="395.4" y="166.90" width="18.5" height="14.71" fill="#00ff96"/><rect x="395.4" y="181.60" width="18.5" height="14.71" fill="#00ffd2"/><rect x="395.4" y="196.30" width="18.5" height="14.71" fill="#00f0ff"/><rect x="395.4" y="211.00" width="18.5" height="14.71" fill="#00b4ff"/><rect x="395.4" y="225.70" width="18.5" height="14.71" fill="#0078ff"/><rect x="395.4" y="240.40" width="18.5" height="14.71" fill="#003cff"/><rect x="395.4" y="255.10" width="18.5" height="7.51" fill="#0000ff"/><path d="M395.4,19.90H413.9M395.4,34.60H413.9M395.4,49.30H413.9M395.4,64.00H413.9M395.4,78.70H413.9M395.4,93.40H413.9M395.4,108.10H413.9M395.4,122.80H413.9M395.4,137.50H413.9M395.4,152.20H413.9M395.4,166.90H413.9M395.4,181.60H413.9M395.4,196.30H413.9M395.4,211.00H413.9M395.4,225.70H413.9M395.4,240.40H413.9M395.4,255.10H413.9" stroke="#111" stroke-width="0.8" stroke-opacity="0.7"/><rect x="395.4" y="13.00" width="18.5" height="249.60" fill="none" stroke="#111" stroke-width="0.6"/><rect x="946.9" y="11.40" width="18.6" height="7.21" fill="#ff0000"/><rect x="946.9" y="18.60" width="18.6" height="14.61" fill="#ff2c00"/><rect x="946.9" y="33.20" width="18.6" height="14.61" fill="#ff5900"/><rect x="946.9" y="47.80" width="18.6" height="14.61" fill="#ff8500"/><rect x="946.9" y="62.40" width="18.6" height="14.61" fill="#ffb100"/><rect x="946.9" y="77.00" width="18.6" height="14.61" fill="#ffde00"/><rect x="946.9" y="91.60" width="18.6" height="14.61" fill="#f4ff00"/><rect x="946.9" y="106.20" width="18.6" height="14.61" fill="#c8ff00"/><rect x="946.9" y="120.80" width="18.6" height="14.61" fill="#9bff00"/><rect x="946.9" y="135.40" width="18.6" height="14.61" fill="#6fff00"/><rect x="946.9" y="150.00" width="18.6" height="14.61" fill="#43ff00"/><rect x="946.9" y="164.60" width="18.6" height="14.61" fill="#16ff00"/><rect x="946.9" y="179.20" width="18.6" height="14.61" fill="#00ff16"/><rect x="946.9" y="193.80" width="18.6" height="14.61" fill="#00ff43"/><rect x="946.9" y="208.40" width="18.6" height="14.61" fill="#00ff6f"/><rect x="946.9" y="223.00" width="18.6" height="14.61" fill="#00ff9b"/><rect x="946.9" y="237.60" width="18.6" height="14.61" fill="#00ffc8"/><rect x="946.9" y="252.20" width="18.6" height="14.61" fill="#00fff4"/><rect x="946.9" y="266.80" width="18.6" height="14.61" fill="#00deff"/><rect x="946.9" y="281.40" width="18.6" height="14.61" fill="#00b1ff"/><rect x="946.9" y="296.00" width="18.6" height="14.61" fill="#0085ff"/><rect x="946.9" y="310.60" width="18.6" height="14.61" fill="#0059ff"/><rect x="946.9" y="325.20" width="18.6" height="14.61" fill="#002cff"/><rect x="946.9" y="339.80" width="18.6" height="7.01" fill="#0000ff"/><path d="M946.9,18.60H965.5M946.9,33.20H965.5M946.9,47.80H965.5M946.9,62.40H965.5M946.9,77.00H965.5M946.9,91.60H965.5M946.9,106.20H965.5M946.9,120.80H965.5M946.9,135.40H965.5M946.9,150.00H965.5M946.9,164.60H965.5M946.9,179.20H965.5M946.9,193.80H965.5M946.9,208.40H965.5M946.9,223.00H965.5M946.9,237.60H965.5M946.9,252.20H965.5M946.9,266.80H965.5M946.9,281.40H965.5M946.9,296.00H965.5M946.9,310.60H965.5M946.9,325.20H965.5M946.9,339.80H965.5" stroke="#111" stroke-width="0.8" stroke-opacity="0.7"/><rect x="946.9" y="11.40" width="18.6" height="335.40" fill="none" stroke="#111" stroke-width="0.6"/><g style="font-family:'Liberation Serif',serif" text-rendering="geometricPrecision" fill="#404040" filter="url(#gs)"><text x="461.20" y="24.90" font-size="12.30" text-anchor="end">8731.0</text><text x="461.20" y="39.60" font-size="12.30" text-anchor="end">6236.0</text><text x="461.20" y="54.30" font-size="12.30" text-anchor="end">3742.0</text><text x="461.20" y="69.00" font-size="12.30" text-anchor="end">1248.0</text><text x="461.20" y="83.70" font-size="12.30" text-anchor="end">38.1</text><text x="461.20" y="98.40" font-size="12.30" text-anchor="end">27.2</text><text x="461.20" y="113.10" font-size="12.30" text-anchor="end">16.3</text><text x="461.20" y="127.80" font-size="12.30" text-anchor="end">5.4</text><text x="461.20" y="142.50" font-size="12.30" text-anchor="end">-0.0</text><text x="461.20" y="157.20" font-size="12.30" text-anchor="end">-5.4</text><text x="461.20" y="171.90" font-size="12.30" text-anchor="end">-16.3</text><text x="461.20" y="186.60" font-size="12.30" text-anchor="end">-27.2</text><text x="461.20" y="201.30" font-size="12.30" text-anchor="end">-38.1</text><text x="461.20" y="216.00" font-size="12.30" text-anchor="end">-1248.0</text><text x="461.20" y="230.70" font-size="12.30" text-anchor="end">-3742.0</text><text x="461.20" y="245.40" font-size="12.30" text-anchor="end">-6236.0</text><text x="461.20" y="260.10" font-size="12.30" text-anchor="end">-8731.0</text><text x="999.30" y="23.60" font-size="11.90" text-anchor="end">9.25</text><text x="999.30" y="38.20" font-size="11.90" text-anchor="end">8.00</text><text x="999.30" y="52.80" font-size="11.90" text-anchor="end">6.75</text><text x="999.30" y="67.40" font-size="11.90" text-anchor="end">5.50</text><text x="999.30" y="82.00" font-size="11.90" text-anchor="end">4.25</text><text x="999.30" y="96.60" font-size="11.90" text-anchor="end">3.00</text><text x="999.30" y="111.20" font-size="11.90" text-anchor="end">1.75</text><text x="999.30" y="125.80" font-size="11.90" text-anchor="end">0.00</text><text x="999.30" y="140.40" font-size="11.90" text-anchor="end">-0.06</text><text x="999.30" y="155.00" font-size="11.90" text-anchor="end">-0.19</text><text x="999.30" y="169.60" font-size="11.90" text-anchor="end">-0.31</text><text x="999.30" y="184.20" font-size="11.90" text-anchor="end">-0.44</text><text x="999.30" y="198.80" font-size="11.90" text-anchor="end">-0.56</text><text x="999.30" y="213.40" font-size="11.90" text-anchor="end">-0.69</text><text x="999.30" y="228.00" font-size="11.90" text-anchor="end">-0.82</text><text x="999.30" y="242.60" font-size="11.90" text-anchor="end">-0.94</text><text x="999.30" y="257.20" font-size="11.90" text-anchor="end">-1.75</text><text x="999.30" y="271.80" font-size="11.90" text-anchor="end">-3.00</text><text x="999.30" y="286.40" font-size="11.90" text-anchor="end">-4.25</text><text x="999.30" y="301.00" font-size="11.90" text-anchor="end">-5.50</text><text x="999.30" y="315.60" font-size="11.90" text-anchor="end">-6.75</text><text x="999.30" y="330.20" font-size="11.90" text-anchor="end">-8.00</text><text x="999.30" y="344.80" font-size="11.90" text-anchor="end">-9.25</text><text x="39.50" y="362.90" font-size="13.30" text-anchor="middle">0</text><text x="114.38" y="362.90" font-size="13.30" text-anchor="middle">1</text><text x="189.26" y="362.90" font-size="13.30" text-anchor="middle">2</text><text x="264.14" y="362.90" font-size="13.30" text-anchor="middle">3</text><text x="339.02" y="362.90" font-size="13.30" text-anchor="middle">4</text><text x="413.90" y="362.90" font-size="13.30" text-anchor="middle">5</text><text x="34.50" y="17.20" font-size="13.30" text-anchor="end" letter-spacing="0">1</text><text x="34.50" y="92.04" font-size="13.30" text-anchor="end" letter-spacing="0">0.8</text><text x="34.50" y="166.89" font-size="13.30" text-anchor="end" letter-spacing="0">0.6</text><text x="34.50" y="241.73" font-size="13.30" text-anchor="end" letter-spacing="0">0.4</text><text x="34.50" y="316.58" font-size="13.30" text-anchor="end" letter-spacing="0">0.2</text><text x="578.60" y="358.60" font-size="13.30" text-anchor="middle">0</text><text x="652.66" y="358.60" font-size="13.30" text-anchor="middle">1</text><text x="726.72" y="358.60" font-size="13.30" text-anchor="middle">2</text><text x="800.78" y="358.60" font-size="13.30" text-anchor="middle">3</text><text x="874.84" y="358.60" font-size="13.30" text-anchor="middle">4</text><text x="948.90" y="358.60" font-size="13.30" text-anchor="middle">5</text><text x="573.60" y="15.80" font-size="13.30" text-anchor="end" letter-spacing="0">1</text><text x="573.60" y="90.00" font-size="13.30" text-anchor="end" letter-spacing="0">0.8</text><text x="573.60" y="164.20" font-size="13.30" text-anchor="end" letter-spacing="0">0.6</text><text x="573.60" y="238.40" font-size="13.30" text-anchor="end" letter-spacing="0">0.4</text><text x="573.60" y="312.60" font-size="13.30" text-anchor="end" letter-spacing="0">0.2</text><text x="6.60" y="16.80" font-size="14.70" text-anchor="start">(a)</text><text x="544.80" y="16.60" font-size="14.70" text-anchor="start">(b)</text><text x="8.40" y="125.80" font-size="13.80" text-anchor="start" font-style="italic">Z</text><text x="549.20" y="124.60" font-size="13.80" text-anchor="start" font-style="italic">Z</text><text x="227.40" y="367.70" font-size="13.80" text-anchor="start" font-style="italic">X</text><text x="760.00" y="369.20" font-size="13.80" text-anchor="start" font-style="italic">X</text></g><g style="font-family:'Liberation Serif',serif" text-rendering="geometricPrecision" font-weight="bold" fill="#111" filter="url(#gs)"><text transform="translate(46.40,126.50) scale(1,1.1000)" font-size="11.50" text-anchor="start">A</text><text transform="translate(67.00,98.60) scale(1,1.1000)" font-size="11.50" text-anchor="start">B</text><text transform="translate(63.20,276.60) scale(1,1.1000)" font-size="11.50" text-anchor="start">A</text><text transform="translate(43.00,294.80) scale(1,1.1000)" font-size="11.50" text-anchor="start">B</text></g><path d="M57.2,121l1.0,-3.4 1.6,0.6z M76.5,93l1.0,-3.4 1.6,0.6z" fill="#111"/><path d="M73.9,100.6L79.2,100.6L76.2,112.6Z" fill="#111"/><path d="M65.3,193L72.6,202.3L67.9,204.7Z" fill="#111"/></svg></body></html>
